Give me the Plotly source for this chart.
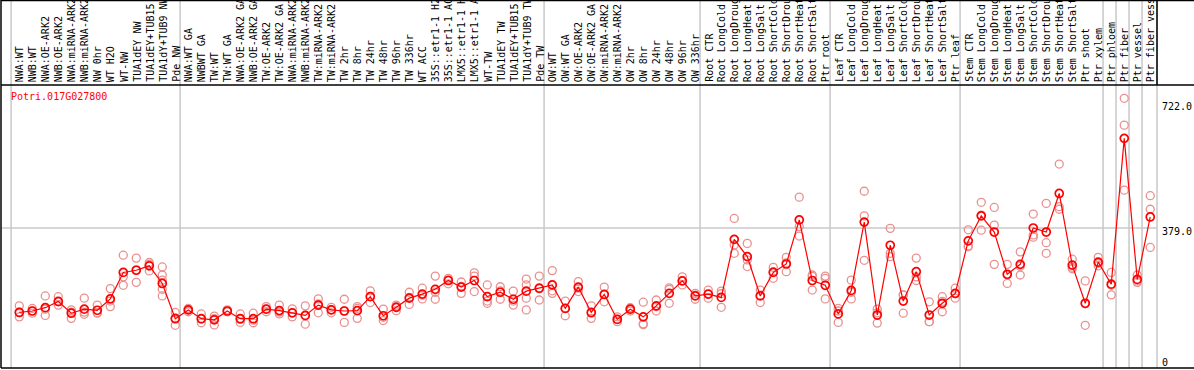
import plotly.graph_objects as go

categories = [
    "NWA:WT", "NWB:WT", "NWA:OE-ARK2", "NWB:OE-ARK2", "NWA:miRNA-ARK2", "NWB:miRNA-ARK2",
    "NW 0hr", "WT H2O", "WT-NW", "TUA1dEY NW", "TUA1dEY+TUB15 NW", "TUA1dY+TUB9 NW", "Pde NW",
    "NWA:WT GA", "NWBWT GA", "TW:WT", "TW:WT GA", "NWA:OE-ARK2 GA", "NWB:OE-ARK2 GA",
    "TW:OE-ARK2", "TW:OE-ARK2 GA", "NWA:miRNA-ARK2", "NWB:miRNA-ARK2", "TW:miRNA-ARK2",
    "TW:miRNA-ARK2", "TW 2hr", "TW 8hr", "TW 24hr", "TW 48hr", "TW 96hr", "TW 336hr", "WT ACC",
    "35S::etr1-1 H2O", "35S::etr1-1 ACC", "LMX5::etr1-1 H2O", "LMX5::etr1-1 ACC", "WT-TW",
    "TUA1dEY TW", "TUA1dEY+TUB15 TW", "TUA1dY+TUB9 TW", "Pde TW",
    "OW:WT", "OW:WT GA", "OW:OE-ARK2", "OW:OE-ARK2 GA", "OW:miRNA-ARK2", "OW:miRNA-ARK2",
    "OW 2hr", "OW 8hr", "OW 24hr", "OW 48hr", "OW 96hr", "OW 336hr",
    "Root CTR", "Root LongCold", "Root LongDrought", "Root LongHeat", "Root LongSalt",
    "Root ShortCold", "Root ShortDrought", "Root ShortHeat", "Root ShortSalt", "Ptr root",
    "Leaf CTR", "Leaf LongCold", "Leaf LongDrought", "Leaf LongHeat", "Leaf LongSalt",
    "Leaf ShortCold", "Leaf ShortDrought", "Leaf ShortHeat", "Leaf ShortSalt", "Ptr leaf",
    "Stem CTR", "Stem LongCold", "Stem LongDrought", "Stem LongHeat", "Stem LongSalt",
    "Stem ShortCold", "Stem ShortDrought", "Stem ShortHeat", "Stem ShortSalt", "Ptr shoot",
    "Ptr xylem", "Ptr phloem", "Ptr fiber", "Ptr vessel", "Ptr fiber vessel",
]

# index of first category in each group (vertical separators)
group_starts = [0, 13, 41, 53, 63, 73, 84, 85, 86, 87]

means = [
    149, 153, 162, 179, 147, 158, 155, 186, 258, 264, 276, 228, 132,
    156, 132, 129, 153, 132, 132, 158, 154, 148, 141, 169, 156, 153, 154, 192, 140,
    163, 188, 199, 212, 236, 218, 236, 192, 204, 185, 207, 215,
    224, 160, 218, 149, 198, 130, 158, 137, 167, 201, 235, 194,
    199, 190, 348, 301, 194, 258, 281, 401, 236, 223,
    145, 209, 395, 142, 332, 180, 260, 142, 174, 201,
    344, 412, 368, 253, 280, 379, 368, 473, 278, 174, 286,
    226, 623, 239, 409,
]

replicates = [
    [167, 137, 150], [160, 147, 153], [194, 141, 158], [192, 169, 178], [156, 133, 150],
    [188, 144, 150], [169, 148, 147], [214, 165, 180], [305, 246, 223], [297, 231, 265],
    [285, 262, 280], [273, 251, 237, 212, 194], [149, 114, 134],
    [160, 151, 156], [145, 121, 131], [139, 115, 132], [156, 151, 152], [145, 122, 130],
    [147, 121, 128], [165, 151, 158], [169, 145, 150], [159, 137, 148], [167, 117, 140],
    [186, 148, 172], [163, 148, 156], [185, 122, 153], [165, 133, 160], [208, 176, 193],
    [158, 127, 136], [169, 154, 165], [204, 171, 190], [215, 186, 196], [248, 185, 204],
    [242, 227, 238], [232, 201, 220], [257, 248, 206], [224, 174, 180], [219, 185, 208],
    [207, 169, 180], [240, 224, 188, 156], [248, 183, 214],
    [263, 201, 208], [180, 140, 160], [233, 206, 215], [167, 133, 147], [218, 178, 198],
    [137, 124, 130], [162, 153, 158], [177, 118, 116], [183, 153, 165], [216, 174, 212],
    [246, 224, 235], [201, 185, 196],
    [210, 188, 199], [207, 163, 200], [405, 333, 310], [337, 274, 292], [210, 176, 196],
    [272, 242, 260], [299, 260, 284], [463, 357, 383], [251, 210, 247], [248, 242, 186],
    [160, 122, 153], [237, 186, 204], [479, 412, 291], [158, 120, 148], [378, 310, 301],
    [197, 147, 196], [297, 246, 236], [178, 124, 124], [192, 151, 179], [215, 188, 200],
    [374, 328, 330], [449, 373, 414], [435, 387, 280], [280, 228, 251], [314, 251, 275],
    [417, 360, 354], [446, 339, 310], [553, 437, 430], [294, 272, 268], [235, 114, 173],
    [299, 276, 283], [258, 197, 223], [732, 659, 482], [251, 231, 235], [467, 430, 326],
]

y_ticks = [0, 379, 722]
y_tick_text = ["0", "379.0", "722.0"]
gene = "Potri.017G027800"

FONT = "DejaVu Sans Mono"
W, H = 1194, 370
L, R, T, B = 2, 37, 85, 2
plot_w = W - L - R
plot_h = H - T - B

def px_x(p):
    return (p - L) / plot_w

def px_y(p):
    return (H - B - p) / plot_h

idx = list(range(len(categories)))

rx, ry = [], []
for i, reps in enumerate(replicates):
    for v in reps:
        rx.append(i)
        ry.append(v)

fig = go.Figure()
fig.add_trace(go.Scatter(
    x=rx, y=ry, mode="markers",
    marker=dict(symbol="circle-open", size=8, color="#EA9090", line=dict(width=1.3, color="#EA9090")),
    showlegend=False, hoverinfo="skip",
))
fig.add_trace(go.Scatter(
    x=idx, y=means, mode="lines+markers",
    line=dict(color="#FF0000", width=1.2),
    marker=dict(symbol="circle-open", size=8, color="#FF0000", line=dict(width=1.7, color="#FF0000")),
    showlegend=False,
))

shapes = []
# vertical separators through label area and plot
for s in group_starts:
    shapes.append(dict(type="line", xref="x", yref="paper", x0=s - 0.63, x1=s - 0.63,
                       y0=0, y1=px_y(0), line=dict(color="#C8C8C8", width=1.5), layer="below"))
shapes.append(dict(type="line", xref="paper", yref="paper", x0=1, x1=1,
                   y0=0, y1=px_y(0), line=dict(color="#C8C8C8", width=1.5), layer="below"))
# horizontal reference line
shapes.append(dict(type="line", xref="paper", yref="y", x0=0, x1=1, y0=379, y1=379,
                   line=dict(color="#C8C8C8", width=1.5), layer="below"))
# black frame
black = dict(color="black", width=1.5)
shapes += [
    dict(type="line", xref="paper", yref="paper", x0=px_x(1), x1=px_x(1), y0=px_y(368), y1=px_y(0), line=black),
    dict(type="line", xref="paper", yref="paper", x0=px_x(1), x1=px_x(1194), y0=px_y(0.5), y1=px_y(0.5), line=black),
    dict(type="line", xref="paper", yref="paper", x0=px_x(1), x1=px_x(1194), y0=px_y(85), y1=px_y(85), line=black),
    dict(type="line", xref="paper", yref="paper", x0=px_x(1), x1=px_x(1194), y0=px_y(368), y1=px_y(368), line=black),
    dict(type="line", xref="paper", yref="paper", x0=1, x1=1, y0=px_y(85), y1=px_y(0), line=black),
]

annotations = []
for i, c in enumerate(categories):
    annotations.append(dict(x=i, y=px_y(83), xref="x", yref="paper", text=c, textangle=-90,
                            showarrow=False, xanchor="center", yanchor="bottom", xshift=1,
                            font=dict(family=FONT, size=10, color="black"), borderpad=0))
annotations.append(dict(x=px_x(9), y=px_y(97), xref="paper", yref="paper", text=gene,
                        showarrow=False, xanchor="left", yanchor="middle",
                        font=dict(family=FONT, size=10, color="#FF0000")))
for v, t in zip(y_ticks, y_tick_text):
    annotations.append(dict(x=1, y=v, xref="paper", yref="y", text=t, showarrow=False,
                            xanchor="left", yanchor="middle",
                            xshift=3, yshift=5 if v == 0 else -4,
                            font=dict(family=FONT, size=10, color="black")))

fig.update_layout(
    width=W, height=H,
    margin=dict(l=L, r=R, t=T, b=B, pad=0),
    plot_bgcolor="white", paper_bgcolor="white",
    xaxis=dict(range=[-1.33, 87.52], showgrid=False, zeroline=False, showticklabels=False,
               ticks="", showline=False, fixedrange=True),
    yaxis=dict(range=[-2.2, 768.3], showgrid=False, zeroline=False, showticklabels=False,
               ticks="", showline=False, fixedrange=True),
    shapes=shapes, annotations=annotations, showlegend=False,
)

fig.write_html(
    "out.html",
    config={"displayModeBar": False},
    post_script="document.body.style.margin='0';document.body.style.overflow='hidden';",
)
